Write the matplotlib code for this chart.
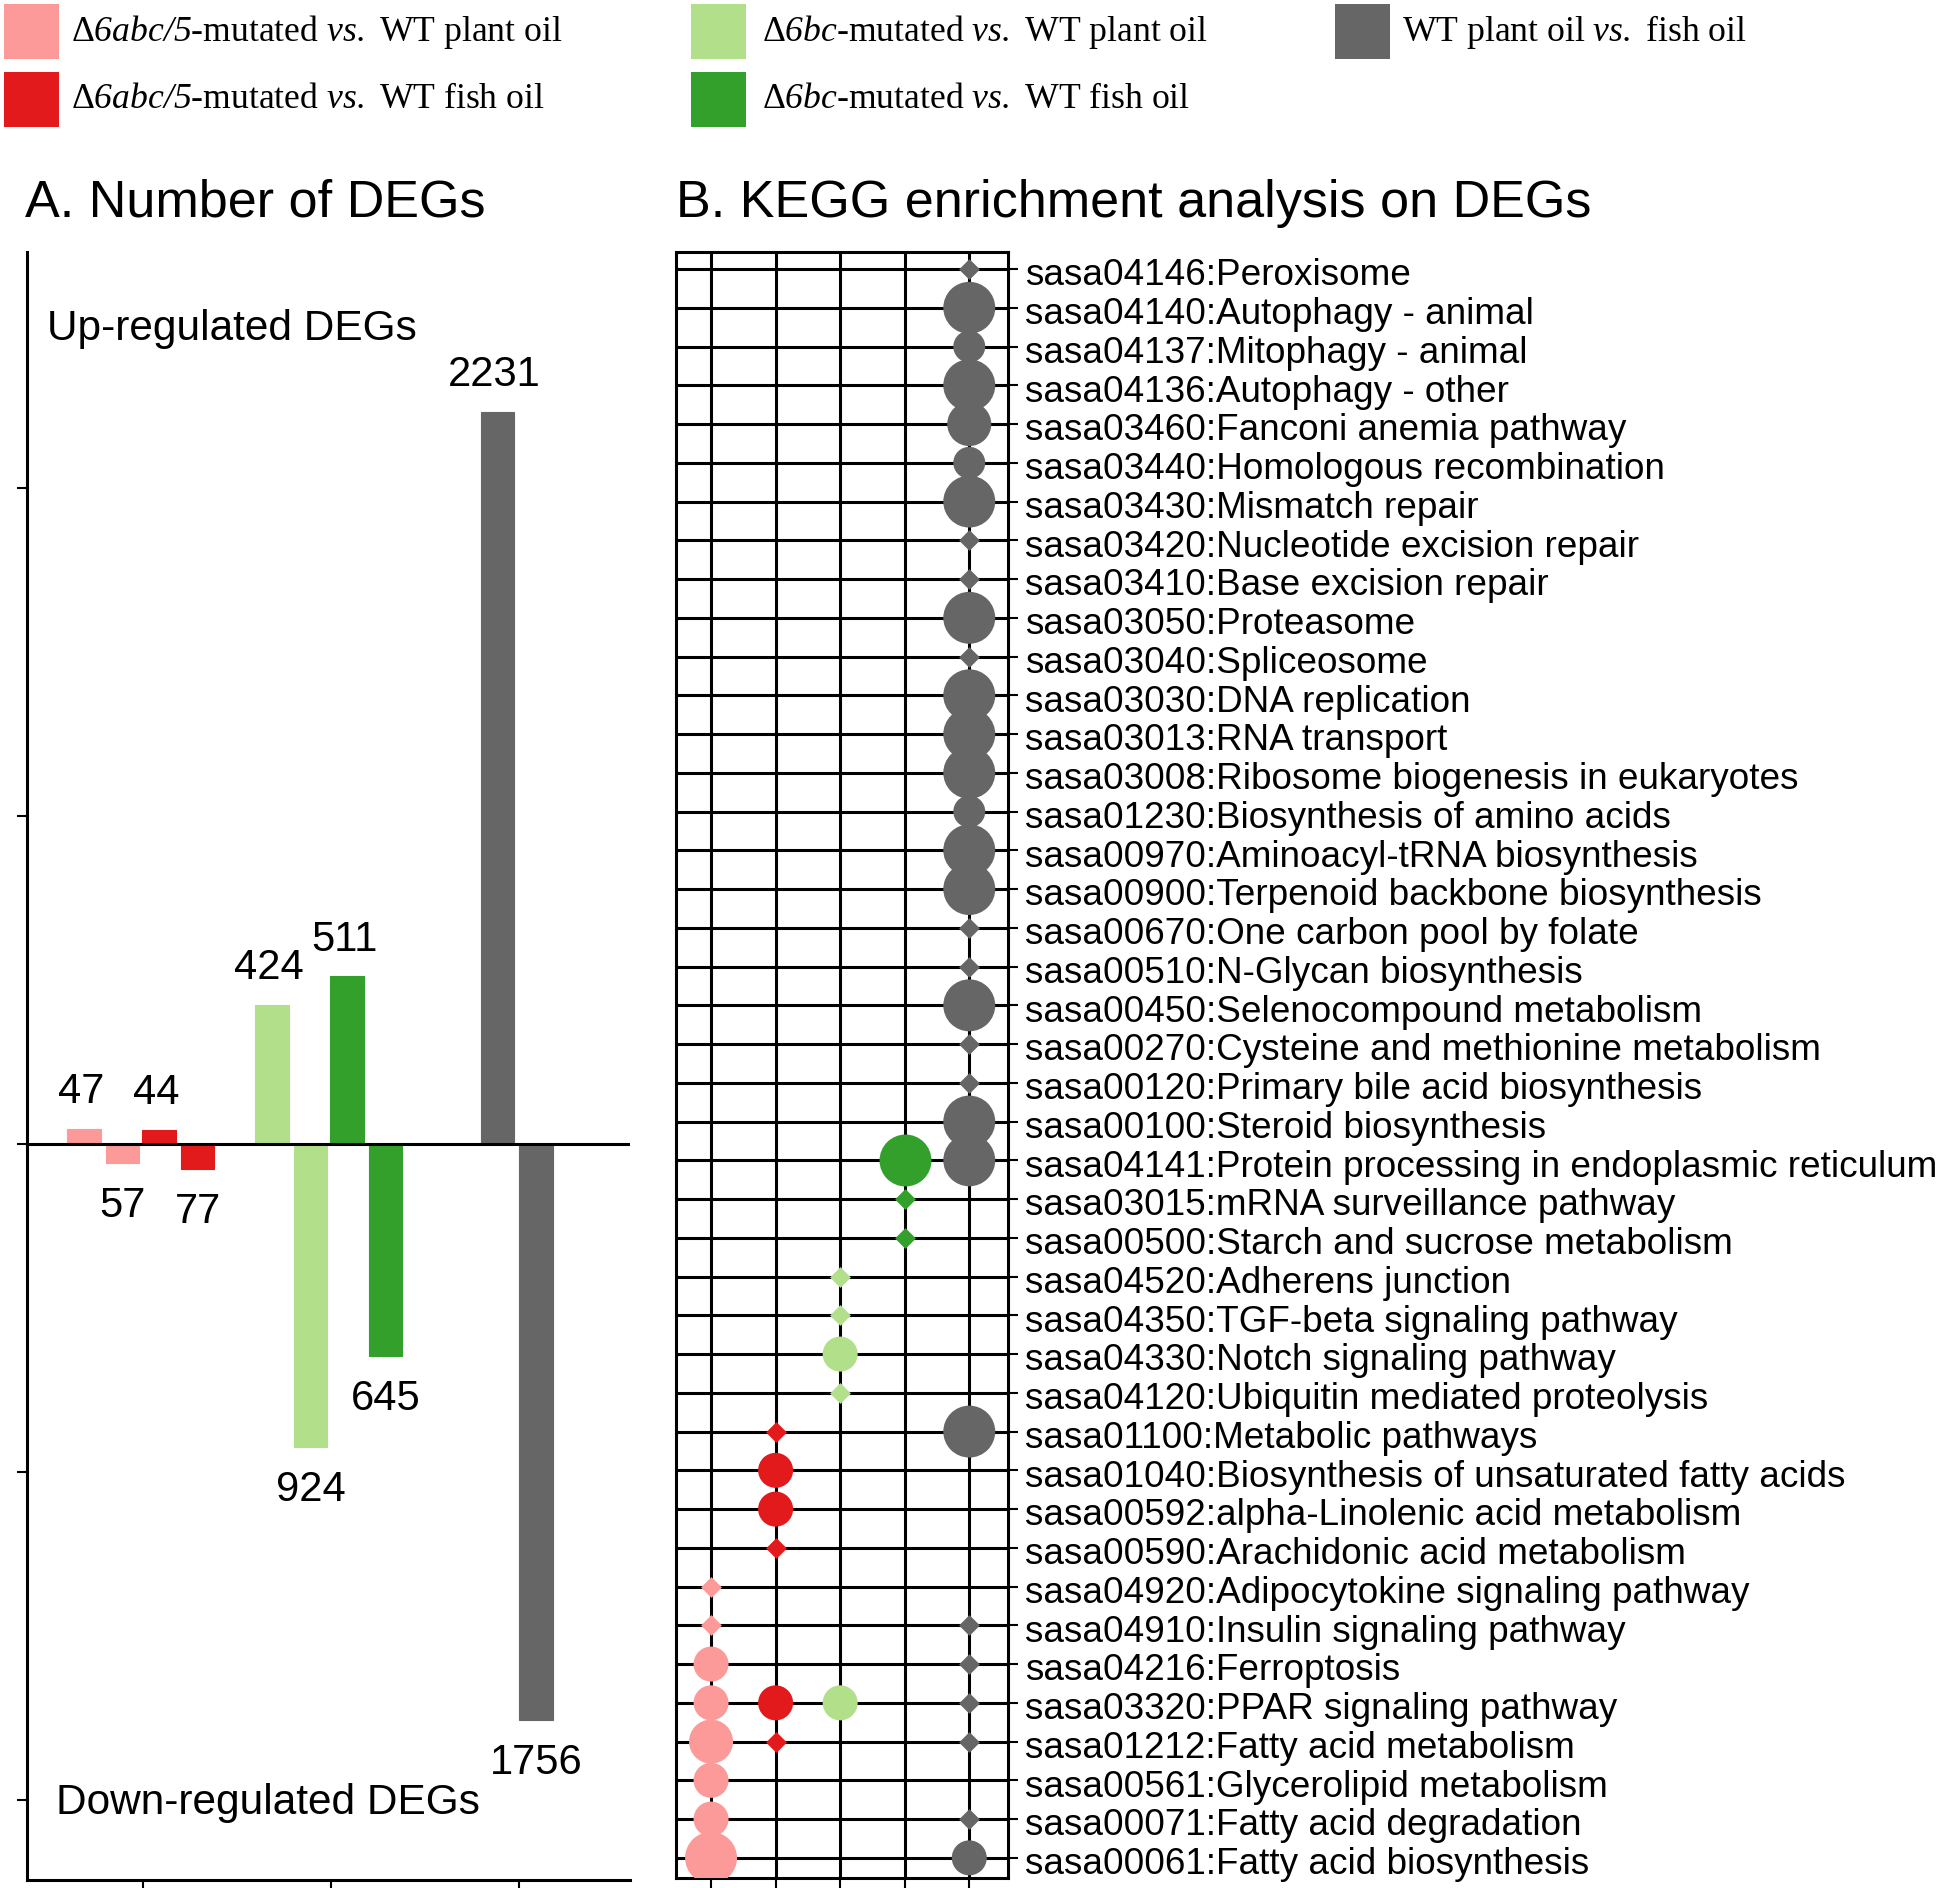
import matplotlib
matplotlib.use('Agg')
import matplotlib.pyplot as plt
from matplotlib.patches import Rectangle
from matplotlib.path import Path
from matplotlib.transforms import ScaledTranslation

plt.rcParams['font.family'] = ['Liberation Sans', 'DejaVu Sans']
plt.rcParams['mathtext.fontset'] = 'custom'
plt.rcParams['mathtext.rm'] = 'Liberation Serif:italic'
plt.rcParams['mathtext.it'] = 'Liberation Serif:italic'

# ---------------- data ----------------
legend_labels = [
    'Δ$6abc/5$-mutated $vs.$ WT plant oil',
    'Δ$6abc/5$-mutated $vs.$ WT fish oil',
    'Δ$6bc$-mutated $vs.$ WT plant oil',
    'Δ$6bc$-mutated $vs.$ WT fish oil',
    'WT plant oil $vs.$ fish oil',
]
colors = ['#FB9A99', '#E31A1C', '#B2DF8A', '#33A02C', '#666666']

# Panel A: number of DEGs per comparison
deg_group = [1, 1, 2, 2, 3]
up_degs = [47, 44, 424, 511, 2231]
down_degs = [57, 77, 924, 645, 1756]

# Panel B: KEGG pathways (top to bottom)
pathways = [
    'sasa04146:Peroxisome',
    'sasa04140:Autophagy - animal',
    'sasa04137:Mitophagy - animal',
    'sasa04136:Autophagy - other',
    'sasa03460:Fanconi anemia pathway',
    'sasa03440:Homologous recombination',
    'sasa03430:Mismatch repair',
    'sasa03420:Nucleotide excision repair',
    'sasa03410:Base excision repair',
    'sasa03050:Proteasome',
    'sasa03040:Spliceosome',
    'sasa03030:DNA replication',
    'sasa03013:RNA transport',
    'sasa03008:Ribosome biogenesis in eukaryotes',
    'sasa01230:Biosynthesis of amino acids',
    'sasa00970:Aminoacyl-tRNA biosynthesis',
    'sasa00900:Terpenoid backbone biosynthesis',
    'sasa00670:One carbon pool by folate',
    'sasa00510:N-Glycan biosynthesis',
    'sasa00450:Selenocompound metabolism',
    'sasa00270:Cysteine and methionine metabolism',
    'sasa00120:Primary bile acid biosynthesis',
    'sasa00100:Steroid biosynthesis',
    'sasa04141:Protein processing in endoplasmic reticulum',
    'sasa03015:mRNA surveillance pathway',
    'sasa00500:Starch and sucrose metabolism',
    'sasa04520:Adherens junction',
    'sasa04350:TGF-beta signaling pathway',
    'sasa04330:Notch signaling pathway',
    'sasa04120:Ubiquitin mediated proteolysis',
    'sasa01100:Metabolic pathways',
    'sasa01040:Biosynthesis of unsaturated fatty acids',
    'sasa00592:alpha-Linolenic acid metabolism',
    'sasa00590:Arachidonic acid metabolism',
    'sasa04920:Adipocytokine signaling pathway',
    'sasa04910:Insulin signaling pathway',
    'sasa04216:Ferroptosis',
    'sasa03320:PPAR signaling pathway',
    'sasa01212:Fatty acid metabolism',
    'sasa00561:Glycerolipid metabolism',
    'sasa00071:Fatty acid degradation',
    'sasa00061:Fatty acid biosynthesis',
]
# enrichment level per pathway row (1-based): 0 = diamond, 1..4 = circle level
enrich_abc5_plant = {35: 0, 36: 0, 37: 2, 38: 2, 39: 3, 40: 2, 41: 2, 42: 4}
enrich_abc5_fish = {31: 0, 32: 2, 33: 2, 34: 0, 38: 2, 39: 0}
enrich_bc_plant = {27: 0, 28: 0, 29: 2, 30: 0, 38: 2}
enrich_bc_fish = {24: 4, 25: 0, 26: 0}
enrich_wt = {1: 0, 2: 4, 3: 1, 4: 4, 5: 3, 6: 1, 7: 4, 8: 0, 9: 0, 10: 4, 11: 0,
             12: 4, 13: 4, 14: 4, 15: 1, 16: 4, 17: 4, 18: 0, 19: 0, 20: 4,
             21: 0, 22: 0, 23: 4, 24: 4, 31: 4, 36: 0, 37: 0, 38: 0, 39: 0,
             41: 0, 42: 2}
enrichment = [enrich_abc5_plant, enrich_abc5_fish, enrich_bc_plant, enrich_bc_fish, enrich_wt]

# ---------------- figure ----------------
W, H = 1946, 1888
fig = plt.figure(figsize=(W / 100, H / 100), dpi=100)


def fx(px):
    return px / W


def fy(py):
    return 1 - py / H


# legend (manual)
leg_cols = [(4, 71), (4, 71), (691, 762), (691, 762), (1335, 1402)]
leg_rows = [4, 72, 4, 72, 4]
for i, lab in enumerate(legend_labels):
    px0, tx = leg_cols[i]
    py0 = leg_rows[i]
    fig.patches.append(Rectangle((fx(px0), fy(py0 + 55)), 55 / W, 55 / H,
                                 transform=fig.transFigure, facecolor=colors[i],
                                 edgecolor='none'))
    fig.text(fx(tx), fy(py0 + 28), lab, family=['Liberation Serif'], fontsize=25.7,
             va='center', ha='left')

# titles
fig.text(fx(25), fy(203), 'A. Number of DEGs', fontsize=37.5, va='center', ha='left')
fig.text(fx(676), fy(203), 'B. KEGG enrichment analysis on DEGs', fontsize=37.5,
         va='center', ha='left')

# ---------------- panel A ----------------
axA = fig.add_axes([fx(27), fy(1880), (630 - 27) / W, (1880 - 252) / H])
groups = sorted(set(deg_group))
bar_w = 0.178
for i in range(len(up_degs)):
    g = deg_group[i]
    members = [j for j in range(len(deg_group)) if deg_group[j] == g]
    k = members.index(i)
    n = len(members)
    center = g - 0.01 + (k - (n - 1) / 2) * 0.40
    xu, xd = center - 0.103, center + 0.103
    axA.bar(xu, up_degs[i], width=bar_w, color=colors[i], edgecolor=colors[i], lw=0.8)
    axA.bar(xd, -down_degs[i], width=bar_w, color=colors[i], edgecolor=colors[i], lw=0.8)
    axA.annotate(str(up_degs[i]), (xu, up_degs[i]), xytext=(-2, 26.5),
                 textcoords='offset points', ha='center', va='center', fontsize=30)
    axA.annotate(str(down_degs[i]), (xd, -down_degs[i]), xytext=(0, -31),
                 textcoords='offset points', ha='center', va='center', fontsize=30)

axA.axhline(0, color='black', lw=2.2, zorder=3)
axA.set_xlim(0.385, 3.592)
axA.set_ylim(-2243, 2719)
axA.set_xticks(groups)
axA.set_yticks([-2000, -1000, 0, 1000, 2000])
axA.set_xticklabels([])
axA.set_yticklabels([])
axA.tick_params(direction='out', length=7, width=1.5)
for s in ['top', 'right']:
    axA.spines[s].set_visible(False)
for s in ['left', 'bottom']:
    axA.spines[s].set_linewidth(2.2)
axA.text(0.033, 0.953, 'Up-regulated DEGs', transform=axA.transAxes, fontsize=30.5,
         va='center', ha='left')
axA.text(0.048, 0.047, 'Down-regulated DEGs', transform=axA.transAxes, fontsize=30.5,
         va='center', ha='left')

# ---------------- panel B ----------------
axB = fig.add_axes([fx(676), fy(1878), (1008 - 676) / W, (1878 - 252) / H])
nrow = len(pathways)
rows = list(range(1, nrow + 1))
cols = list(range(1, len(enrichment) + 1))
diamond = Path([(0, 1), (1, 0), (0, -1), (-1, 0), (0, 1)],
               [Path.MOVETO, Path.LINETO, Path.LINETO, Path.LINETO, Path.CLOSEPOLY])
level_diam_pt = {1: 23.0, 2: 25.2, 3: 31.7, 4: 37.4}
diamond_pt = 15.0
for c, enr in enumerate(enrichment):
    xs_d, ys_d, xs_c, ys_c, ss_c = [], [], [], [], []
    for r, lev in enr.items():
        if lev == 0:
            xs_d.append(c + 1)
            ys_d.append(r)
        else:
            xs_c.append(c + 1)
            ys_c.append(r)
            ss_c.append(level_diam_pt[lev] ** 2)
    axB.scatter(xs_d, ys_d, s=diamond_pt ** 2, marker=diamond, color=colors[c],
                linewidths=0, zorder=3)
    axB.scatter(xs_c, ys_c, s=ss_c, marker='o', color=colors[c], linewidths=0,
                zorder=3)

axB.set_xlim(0.457, 5.60)
axB.set_ylim(nrow + 0.52, 0.56)
axB.set_xticks(cols)
axB.set_xticklabels([])
axB.set_yticks(rows)
axB.set_yticklabels(pathways, fontsize=26.6)
axB.yaxis.tick_right()
axB.tick_params(axis='y', direction='out', length=7, width=1.5, pad=5)
axB.tick_params(axis='x', direction='out', length=7, width=1.5)
shift = ScaledTranslation(0, -2 / 72, fig.dpi_scale_trans)
for lbl in axB.get_yticklabels():
    lbl.set_transform(lbl.get_transform() + shift)
axB.grid(True, color='black', lw=2.2)
axB.set_axisbelow(True)
for s in axB.spines.values():
    s.set_linewidth(2.2)

fig.savefig('out.png', dpi=100)
